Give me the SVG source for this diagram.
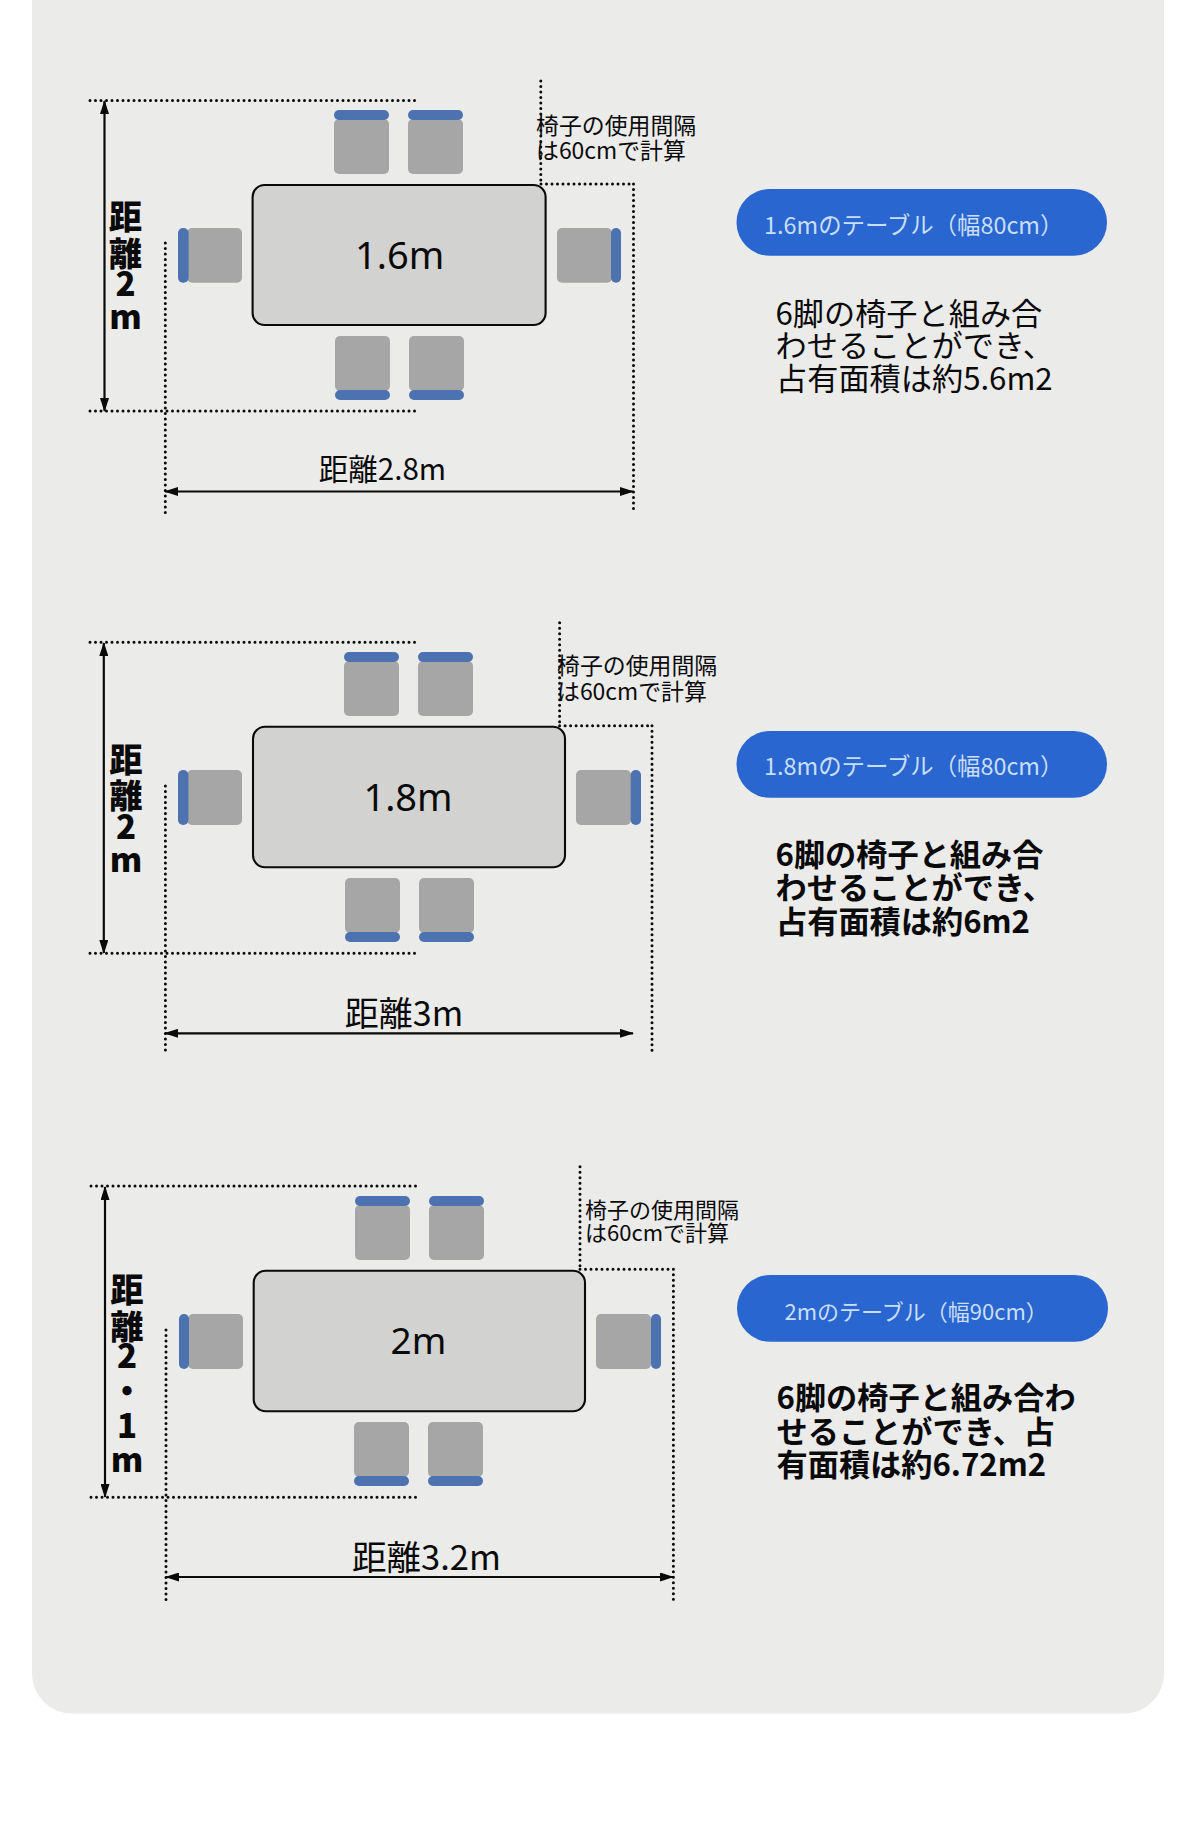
<svg xmlns="http://www.w3.org/2000/svg" width="1200" height="1844" viewBox="0 0 1200 1844">
<style>
text{font-family:"Noto Sans CJK JP","Noto Sans",sans-serif;fill:#0a0a0a}
.table{fill:#d2d2d0;stroke:#0a0a0a;stroke-width:2.1}
.seat{fill:#a6a6a6}
.back{fill:#4c72b0}
.dot{fill:none;stroke:#0a0a0a;stroke-width:3;stroke-linecap:round;stroke-dasharray:0 5.5}
.arr{fill:none;stroke:#0a0a0a;stroke-width:2.2;marker-start:url(#ah);marker-end:url(#ah)}
.pill{fill:#2a66cf}
.pilltxt{fill:#c9def8;font-size:23.4px}
.note{font-size:22.9px}
.note3{font-size:22px}
.size{font-family:"Noto Sans",sans-serif;font-size:38px;text-anchor:middle}
.v{font-size:33px;font-weight:900;text-anchor:middle}
.para{font-size:31.2px}
.b{font-weight:700}
</style>
<defs>
<marker id="ah" viewBox="0 0 14 9" refX="13" refY="4.5" markerWidth="14" markerHeight="9" markerUnits="userSpaceOnUse" orient="auto-start-reverse"><path d="M0 0L14 4.5L0 9Z" fill="#0a0a0a"/></marker>
</defs>
<rect id="panel" x="32" y="-60" width="1132" height="1773.5" rx="40" fill="#ebebea"/>

<g id="connectors">
<path class="dot" d="M90 100.5H415"/><path class="dot" d="M90 411H415"/>
<path class="dot" d="M165.3 243V513"/><path class="dot" d="M633.5 184V513"/>
<path class="dot" d="M541 184H633.5"/><path class="dot" d="M540.8 81V184"/>
<path class="arr" d="M104.5 101V411"/><path class="arr" d="M165 491.5H633"/>

<path class="dot" d="M90 642.3H415"/><path class="dot" d="M90 953.3H415"/>
<path class="dot" d="M165.4 786V1054"/><path class="dot" d="M652 725.7V1054"/>
<path class="dot" d="M559.6 725.7H652"/><path class="dot" d="M559.6 622.7V725.7"/>
<path class="arr" d="M103.8 643V953"/><path class="arr" d="M165 1033.3H633"/>

<path class="dot" d="M91 1186H417"/><path class="dot" d="M91 1497.3H417"/>
<path class="dot" d="M166 1330V1600"/><path class="dot" d="M673.4 1269.3V1600"/>
<path class="dot" d="M580 1269.3H673.4"/><path class="dot" d="M580 1166.7V1269.3"/>
<path class="arr" d="M105 1187V1497"/><path class="arr" d="M166 1577H673"/>
</g>

<g id="layout-1">
<g id="table-1"><rect class="table" x="252.6" y="185" width="293" height="140" rx="12"/><text class="size" x="399.6" y="269">1.6m</text></g>
<g id="chairs-1">
<rect class="seat" x="334" y="119" width="55" height="55" rx="5"/><rect class="back" x="334" y="110" width="55" height="10" rx="5"/>
<rect class="seat" x="408" y="119" width="55" height="55" rx="5"/><rect class="back" x="408" y="110" width="55" height="10" rx="5"/>
<rect class="seat" x="335" y="336" width="55" height="55" rx="5"/><rect class="back" x="335" y="390" width="55" height="10" rx="5"/>
<rect class="seat" x="409" y="336" width="55" height="55" rx="5"/><rect class="back" x="409" y="390" width="55" height="10" rx="5"/>
<rect class="seat" x="187" y="228" width="55" height="54.7" rx="5"/><rect class="back" x="178" y="228" width="10.6" height="54.7" rx="5"/>
<rect class="seat" x="557" y="228" width="55" height="54.7" rx="5"/><rect class="back" x="611" y="228" width="10" height="54.7" rx="5"/>
</g>
<g id="height-label-1"><text class="v"><tspan x="125.5" y="229">距</tspan><tspan x="125.5" y="266">離</tspan><tspan x="125.5" y="296">2</tspan><tspan x="125.5" y="329">m</tspan></text></g>
<g id="width-label-1"><text x="382.5" y="480" font-size="29.5" text-anchor="middle">距離2.8m</text></g>
<g id="note-1"><text class="note"><tspan x="536" y="134">椅子の使用間隔</tspan><tspan x="536" y="159">は60cmで計算</tspan></text></g>
<g id="pill-1"><rect class="pill" x="736.5" y="189" width="370.5" height="66.7" rx="33.3"/><text class="pilltxt" x="764" y="234">1.6mのテーブル（幅80cm）</text></g>
<g id="desc-1"><text class="para"><tspan x="775.5" y="325">6脚の椅子と組み合</tspan><tspan x="775.5" y="357">わせることができ、</tspan><tspan x="776" y="390">占有面積は約5.6m2</tspan></text></g>
</g>

<g id="layout-2">
<g id="table-2"><rect class="table" x="253" y="726.7" width="312" height="140.6" rx="12"/><text class="size" x="408" y="811">1.8m</text></g>
<g id="chairs-2">
<rect class="seat" x="344" y="661" width="55" height="55" rx="5"/><rect class="back" x="344" y="652" width="55" height="10" rx="5"/>
<rect class="seat" x="418" y="661" width="55" height="55" rx="5"/><rect class="back" x="418" y="652" width="55" height="10" rx="5"/>
<rect class="seat" x="345" y="878" width="55" height="55" rx="5"/><rect class="back" x="345" y="932" width="55" height="10" rx="5"/>
<rect class="seat" x="419" y="878" width="55" height="55" rx="5"/><rect class="back" x="419" y="932" width="55" height="10" rx="5"/>
<rect class="seat" x="187" y="770" width="55" height="55" rx="5"/><rect class="back" x="178" y="770" width="10.4" height="55" rx="5"/>
<rect class="seat" x="576" y="770" width="55" height="55" rx="5"/><rect class="back" x="630.7" y="770" width="10.3" height="55" rx="5"/>
</g>
<g id="height-label-2"><text class="v"><tspan x="126" y="772">距</tspan><tspan x="126" y="808">離</tspan><tspan x="126" y="839">2</tspan><tspan x="126" y="872">m</tspan></text></g>
<g id="width-label-2"><text x="404" y="1026" font-size="34" text-anchor="middle">距離3m</text></g>
<g id="note-2"><text class="note"><tspan x="557" y="674">椅子の使用間隔</tspan><tspan x="557" y="700">は60cmで計算</tspan></text></g>
<g id="pill-2"><rect class="pill" x="736.5" y="731" width="370.5" height="66.7" rx="33.3"/><text class="pilltxt" x="764" y="775">1.8mのテーブル（幅80cm）</text></g>
<g id="desc-2"><text class="para b"><tspan x="775.5" y="866">6脚の椅子と組み合</tspan><tspan x="775.5" y="899">わせることができ、</tspan><tspan x="776" y="933">占有面積は約6m2</tspan></text></g>
</g>

<g id="layout-3">
<g id="table-3"><rect class="table" x="253.7" y="1270.7" width="331.3" height="140.6" rx="12"/><text class="size" x="418.5" y="1354" style="font-size:37px">2m</text></g>
<g id="chairs-3">
<rect class="seat" x="355" y="1205" width="55" height="55" rx="5"/><rect class="back" x="355" y="1196" width="55" height="10" rx="5"/>
<rect class="seat" x="429" y="1205" width="55" height="55" rx="5"/><rect class="back" x="429" y="1196" width="55" height="10" rx="5"/>
<rect class="seat" x="354" y="1422" width="55" height="55" rx="5"/><rect class="back" x="354" y="1476" width="55" height="10" rx="5"/>
<rect class="seat" x="428" y="1422" width="55" height="55" rx="5"/><rect class="back" x="428" y="1476" width="55" height="10" rx="5"/>
<rect class="seat" x="188" y="1314" width="55" height="55" rx="5"/><rect class="back" x="179" y="1314" width="10" height="55" rx="5"/>
<rect class="seat" x="596" y="1314" width="55" height="55" rx="5"/><rect class="back" x="651" y="1314" width="10" height="55" rx="5"/>
</g>
<g id="height-label-3"><text class="v"><tspan x="127" y="1302">距</tspan><tspan x="127" y="1339">離</tspan><tspan x="127" y="1368">2</tspan><tspan x="127" y="1403">・</tspan><tspan x="127" y="1438">1</tspan><tspan x="127" y="1472">m</tspan></text></g>
<g id="width-label-3"><text x="426.5" y="1570" font-size="34.5" text-anchor="middle">距離3.2m</text></g>
<g id="note-3"><text class="note3"><tspan x="585" y="1218">椅子の使用間隔</tspan><tspan x="585" y="1241">は60cmで計算</tspan></text></g>
<g id="pill-3"><rect class="pill" x="737" y="1275" width="371" height="66.7" rx="33.3"/><text class="pilltxt" x="784.5" y="1320" style="font-size:22px">2mのテーブル（幅90cm）</text></g>
<g id="desc-3"><text class="para b"><tspan x="776.5" y="1409">6脚の椅子と組み合わ</tspan><tspan x="776.5" y="1443">せることができ、占</tspan><tspan x="776.5" y="1476">有面積は約6.72m2</tspan></text></g>
</g>
</svg>
